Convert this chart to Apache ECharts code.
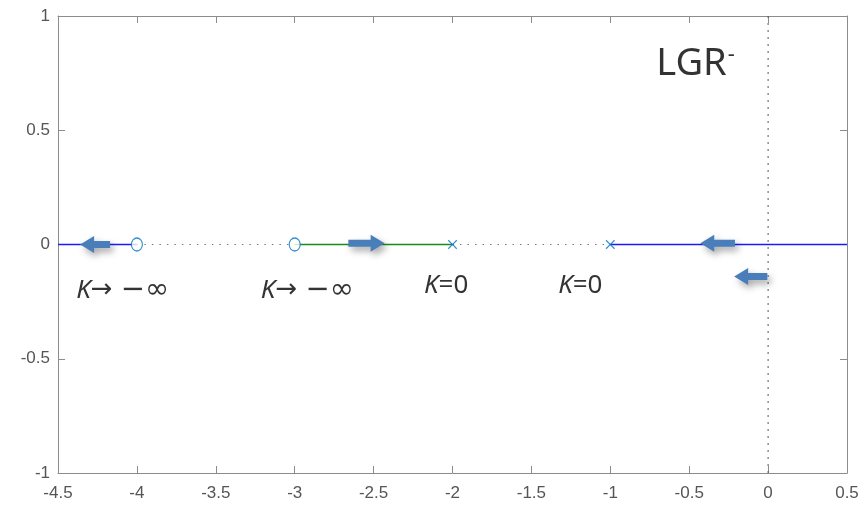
<!DOCTYPE html>
<html>
<head>
<meta charset="utf-8">
<script src="https://cdn.jsdelivr.net/npm/echarts@6/dist/echarts.min.js"></script>
<style>
  html, body { margin: 0; padding: 0; background: #fff; }
  #chart { width: 862px; height: 509px; }
</style>
</head>
<body>
<div id="chart"></div>
<script>
// Negative-gain root locus (LGR-) on the real axis
const xTicks = [-4.5, -4, -3.5, -3, -2.5, -2, -1.5, -1, -0.5, 0, 0.5];
const yTicks = [-1, -0.5, 0, 0.5, 1];

// open-loop zeros (circles) and poles (crosses)
const zeros = [-4, -3];
const poles = [-2, -1];

// locus branches along the real axis
const branchLeft = [[-4.5, 0], [-4, 0]];
const branchMiddle = [[-3, 0], [-2, 0]];
const branchRight = [[-1, 0], [0.5, 0]];
// real-axis segments that are not on the locus
const gapA = [[-4, 0], [-3, 0]];
const gapB = [[-2, 0], [-1, 0]];
// imaginary axis
const imagAxis = [[0, -1], [0, 1]];

// direction arrows: [tail x, head x, y]
const arrows = [
  [-4.17, -4.36, 0],
  [-2.66, -2.43, 0.005],
  [-0.21, -0.43, 0.005],
  [-0.005, -0.215, -0.14]
];

// annotations: [x, y, text]
const notes = [
  [-4.09, -0.2, '{k|K}{a|→ }{b|−∞}'],
  [-2.92, -0.2, '{k|K}{a|→ }{b|−∞}'],
  [-2.04, -0.18, '{k|K}=0'],
  [-1.19, -0.18, '{k|K}=0']
];
const title = [[-0.46, 0.79, 'LGR{s|-}']];

const axisGray = '#8c8c8c';
const labelGray = '#555555';
const markBlue = '#0072BD';

const chart = echarts.init(document.getElementById('chart'));

function seg(data, color, type, width) {
  return {
    type: 'line', data: data, symbol: 'none', silent: true, z: 2,
    lineStyle: { color: color, type: type, width: width }
  };
}

function noteSeries(data, fontSize, extraRich) {
  return {
    type: 'scatter', symbolSize: 1, z: 5, silent: true,
    itemStyle: { color: 'transparent' },
    data: data.map(d => ({ value: [d[0], d[1]], text: d[2] })),
    label: {
      show: true, position: 'inside',
      formatter: p => p.data.text,
      color: '#000', fontSize: fontSize, fontFamily: 'Noto Sans',
      rich: Object.assign({
        k: { fontStyle: 'italic', fontSize: fontSize, color: '#000', fontFamily: 'Noto Sans' },
        a: { fontSize: fontSize, color: '#000', fontFamily: 'DejaVu Sans' },
        b: { fontSize: fontSize + 3, color: '#000', fontFamily: 'DejaVu Sans' }
      }, extraRich || {})
    }
  };
}

function axisBase(extra) {
  return Object.assign({
    type: 'value',
    axisLine: { show: true, onZero: false, lineStyle: { color: axisGray, width: 1 } },
    axisTick: { show: true, inside: true, length: 7, lineStyle: { color: axisGray } },
    splitLine: { show: false }
  }, extra);
}

chart.setOption({
  animation: false,
  backgroundColor: '#ffffff',
  grid: { left: 58, right: 15, top: 16, bottom: 36 },
  xAxis: [
    axisBase({
      min: -4.5, max: 0.5, interval: 0.5, position: 'bottom',
      axisLabel: {
        color: labelGray, fontSize: 17, fontFamily: 'Liberation Sans', margin: 12,
        formatter: v => String(v)
      }
    }),
    axisBase({
      min: -4.5, max: 0.5, interval: 0.5, position: 'top',
      axisLabel: { show: false }
    })
  ],
  yAxis: [
    axisBase({
      min: -1, max: 1, interval: 0.5, position: 'left',
      axisLabel: {
        color: labelGray, fontSize: 17, fontFamily: 'Liberation Sans', margin: 8,
        formatter: v => String(v)
      }
    }),
    axisBase({
      min: -1, max: 1, interval: 0.5, position: 'right',
      axisLabel: { show: false }
    })
  ],
  series: [
    seg(imagAxis, '#555555', [2, 5], 1),
    seg(gapA, '#7a7a7a', [1.5, 6], 1.2),
    seg(gapB, '#7a7a7a', [1.5, 6], 1.2),
    seg(branchLeft, '#1a1aff', 'solid', 1.5),
    seg(branchMiddle, '#1a8c1a', 'solid', 1.5),
    seg(branchRight, '#1a1aff', 'solid', 1.5),
    {
      type: 'scatter', z: 4, silent: true,
      symbol: 'path://M50,0 A50,50 0 1,1 49.9,0 Z',
      symbolSize: [11, 13],
      itemStyle: { color: '#ffffff', borderColor: markBlue, borderWidth: 1.2 },
      data: zeros.map(x => [x, 0])
    },
    {
      type: 'scatter', z: 4, silent: true,
      symbol: 'path://M45,0 L55,0 L55,45 L100,45 L100,55 L55,55 L55,100 L45,100 L45,55 L0,55 L0,45 L45,45 Z',
      symbolSize: 12, symbolRotate: 45,
      itemStyle: { color: markBlue },
      data: poles.map(x => [x, 0])
    },
    {
      type: 'custom', z: 6, silent: true,
      data: arrows,
      renderItem: function (params, api) {
        const a = api.coord([api.value(0), api.value(2)]);
        const b = api.coord([api.value(1), api.value(2)]);
        const dx = b[0] - a[0], dy = b[1] - a[1];
        const len = Math.sqrt(dx * dx + dy * dy);
        const ux = dx / len, uy = dy / len;
        const nx = -uy, ny = ux;
        const hw = 3.5, headLen = 14, headHw = 8.5;
        const bx = b[0] - ux * headLen, by = b[1] - uy * headLen;
        const pts = [
          [a[0] + nx * hw, a[1] + ny * hw],
          [bx + nx * hw, by + ny * hw],
          [bx + nx * headHw, by + ny * headHw],
          [b[0], b[1]],
          [bx - nx * headHw, by - ny * headHw],
          [bx - nx * hw, by - ny * hw],
          [a[0] - nx * hw, a[1] - ny * hw]
        ];
        return {
          type: 'polygon',
          shape: { points: pts },
          style: {
            fill: '#4a7ebb',
            shadowBlur: 7, shadowOffsetX: 3, shadowOffsetY: 4,
            shadowColor: 'rgba(0,0,0,0.35)'
          }
        };
      }
    },
    noteSeries(notes, 26),
    noteSeries(title, 38, {
      s: { fontSize: 22, color: '#000', fontFamily: 'Noto Sans', verticalAlign: 'top', padding: [0, 0, 18, 1] }
    })
  ]
});
</script>
</body>
</html>
